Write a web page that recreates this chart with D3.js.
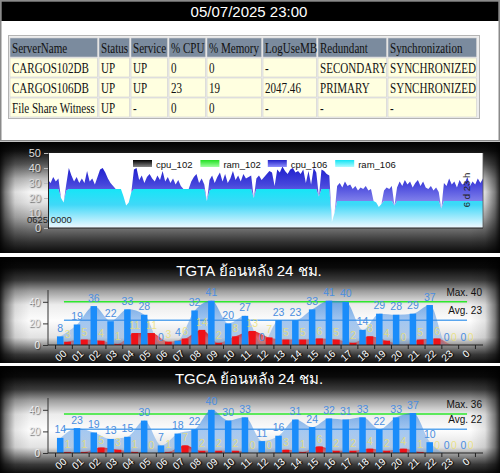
<!DOCTYPE html>
<html>
<head>
<meta charset="utf-8">
<script src="https://cdn.jsdelivr.net/npm/d3@7"></script>
<style>
  body { margin: 0; background: #fff; }
  svg { display: block; font-family: Arial, "Liberation Sans", "DejaVu Sans", sans-serif; }
  .shade { text-shadow: 1px 1px 1px #000; }
  .soft { text-shadow: 1px 1px 1px rgba(0,0,0,0.55); }
</style>
</head>
<body>
<svg width="500" height="473"></svg>
<script>
// ---- data ----
const stamp = "05/07/2025 23:00";

const tableHead = ["ServerName", "Status", "Service", "% CPU", "% Memory", "LogUseMB", "Redundant", "Synchronization"];
const tableRows = [
  ["CARGOS102DB", "UP", "UP", "0", "0", "-", "SECONDARY", "SYNCHRONIZED"],
  ["CARGOS106DB", "UP", "UP", "23", "19", "2047.46", "PRIMARY", "SYNCHRONIZED"],
  ["File Share Witness", "UP", "-", "0", "0", "-", "-", "-"]
];

const resSeries = ["cpu_102", "ram_102", "cpu_106", "ram_106"];
const resTicks = [0, 10, 20, 30, 40, 50];
const startLabel = "0625 0000";
const spanLabel = "6 d 23 h";

// hourly samples over the last 7 days (stacked: ram at the bottom, cpu on top)
const cpu106 = [
  6, 4, 8, 5, 7, 0, 0, 4, 14, 9, 5, 8,
  4, 7, 4, 12, 5, 7, 3, 8, 13, 14, 11, 7,
  4, 2, 0, 0, 0, 0, 0, 0, 0, 13, 14, 6,
  9, 4, 8, 10, 7, 5, 9, 6, 12, 5, 8, 4,
  7, 3, 6, 2, 0, 0, 0, 5, 8, 10, 4, 7,
  3, 0, 7, 9, 4, 8, 11, 5, 10, 4, 7, 12,
  6, 9, 5, 10, 7, 8, 9, 0, 7, 9, 6, 8,
  10, 12, 11, 2, 13, 11, 15, 12, 10, 13, 14, 11,
  12, 10, 13, 4, 12, 3, 14, 11, 0, 13, 12, 10,
  9, 0, 0, 10, 12, 9, 13, 10, 11, 8, 10, 7,
  9, 8, 10, 7, 8, 0, 0, 0, 0, 7, 9, 8,
  10, 0, 9, 13, 10, 14, 11, 13, 9, 12, 14, 10,
  13, 9, 8, 10, 7, 9, 6, 0, 12, 10, 15, 11,
  13, 9, 14, 11, 12, 16, 10, 13, 11, 15, 12, 15
];
const ram106 = [
  26, 26, 26, 26, 26, 20, 17, 25, 26, 26, 26, 26,
  26, 26, 26, 26, 26, 26, 26, 26, 26, 26, 26, 26,
  26, 26, 26, 26, 26, 21, 15, 17, 24, 26, 26, 26,
  26, 26, 26, 26, 26, 26, 26, 26, 26, 26, 26, 26,
  26, 26, 26, 26, 26, 26, 26, 26, 26, 26, 26, 26,
  26, 18, 25, 26, 26, 26, 26, 26, 26, 26, 26, 26,
  26, 26, 26, 26, 26, 26, 26, 20, 26, 26, 26, 26,
  26, 26, 26, 26, 26, 26, 26, 26, 26, 26, 26, 26,
  26, 26, 26, 26, 26, 26, 26, 26, 21, 26, 26, 26,
  26, 4, 10, 18, 18, 18, 18, 18, 18, 18, 18, 18,
  18, 18, 18, 18, 18, 18, 17, 14, 16, 18, 18, 18,
  18, 15, 18, 18, 18, 18, 18, 18, 18, 18, 18, 18,
  18, 18, 18, 18, 18, 18, 18, 13, 18, 18, 18, 18,
  18, 18, 18, 18, 18, 18, 18, 18, 18, 18, 18, 18
];

const hours = ["00", "01", "02", "03", "04", "05", "06", "07", "08", "09", "10", "11",
  "12", "13", "14", "15", "16", "17", "18", "19", "20", "21", "22", "23", "0"];
const hourTicks = [0, 20, 40];

const tgtaTitle = "TGTA ย้อนหลัง 24 ชม.";
const tgtaJobs = [8, 19, 36, 22, 33, 28, 0, 4, 32, 41, 20, 27, 0, 23, 23, 33, 41, 40, 14, 29, 28, 29, 37, 0, 0];
const tgtaErr = [3, 5, 4, 1, 11, 11, 3, 6, 14, 2, 8, 13, 7, 5, 5, 6, 5, 2, 8, 4, 0, 5, 6, 0, 0];
const tgtaMax = 40, tgtaAvg = 23;

const tgcaTitle = "TGCA ย้อนหลัง 24 ชม.";
const tgcaJobs = [14, 23, 19, 13, 15, 30, 7, 18, 22, 40, 30, 33, 11, 16, 31, 24, 32, 31, 33, 22, 33, 37, 10, 0, 0];
const tgcaErr = [1, 1, 5, 3, 1, 0, 1, 7, 2, 2, 2, 0, 0, 3, 1, 6, 2, 2, 4, 2, 4, 1, 0, 0, 0];
const tgcaMax = 36, tgcaAvg = 22;

// ---- drawing ----
const svg = d3.select("svg"),
  W = 500;
const defs = svg.append("defs");

function grad(id, stops, attrs) {
  const g = defs.append("linearGradient").attr("id", id);
  Object.entries(attrs).forEach(([k, v]) => g.attr(k, v));
  stops.forEach(s => g.append("stop").attr("offset", s[0]).attr("stop-color", s[1]).attr("stop-opacity", s[2] == null ? 1 : s[2]));
}
const vert = { x1: 0, y1: 0, x2: 0, y2: 1 };

grad("metal1", [[0, "#000"], [0.08, "#111"], [0.2, "#555"], [0.33, "#bbb"], [0.45, "#f6f6f6"], [0.55, "#e2e2e2"], [0.68, "#aaa"], [0.8, "#666"], [0.9, "#333"], [1, "#0a0a0a"]], vert);
grad("metal2", [[0, "#000"], [0.1, "#0a0a0a"], [0.22, "#3c3c3c"], [0.32, "#9c9c9c"], [0.45, "#ececec"], [0.6, "#fdfdfd"], [0.76, "#e2e2e2"], [0.84, "#8c8c8c"], [0.92, "#3a3a3a"], [1, "#101010"]], vert);
grad("edge", [[0, "#000", 0.85], [0.01, "#000", 0.5], [0.03, "#000", 0.1], [0.06, "#000", 0], [0.94, "#000", 0], [0.97, "#000", 0.1], [0.99, "#000", 0.5], [1, "#000", 0.85]], { x1: 0, y1: 0, x2: 1, y2: 0 });
grad("cpuGrad", [[0, "#0e0ec8"], [0.55, "#4646dc"], [1, "#8e8eee"]], { gradientUnits: "userSpaceOnUse", x1: 0, y1: 160, x2: 0, y2: 205 });
grad("ramGrad", [[0, "#0ee8f6"], [0.45, "#40d8f8"], [1, "#f2f9ff"]], { gradientUnits: "userSpaceOnUse", x1: 0, y1: 186, x2: 0, y2: 228 });
grad("sw0", [[0, "#000"], [1, "#888"]], vert);
grad("sw1", [[0, "#22e022"], [1, "#a0ffa0"]], vert);
grad("sw2", [[0, "#2020c8"], [1, "#9090ff"]], vert);
grad("sw3", [[0, "#10e4f4"], [1, "#b0fbff"]], vert);
grad("jobArea", [[0, "#287de1", 0.62], [1, "#5096e6", 0.28]], vert);
grad("errArea", [[0, "#e00000", 0.92], [1, "#e00000", 0.2]], vert);

// ---- header + table ----
svg.append("rect").attr("x", 0.75).attr("y", 0.75).attr("width", 498.5).attr("height", 140)
  .attr("fill", "#fff").attr("stroke", "#8a8a8a").attr("stroke-width", 1.5);
svg.append("rect").attr("x", 1.5).attr("y", 1.5).attr("width", 497).attr("height", 19.5).attr("fill", "#000");
svg.append("text").attr("x", 249).attr("y", 17).attr("text-anchor", "middle")
  .attr("fill", "#fff").style("font-size", "15px").text(stamp);

const colEdges = [10, 99, 131, 169, 207, 263, 318, 388, 478];
const rowTop = [38, 58, 78, 98];
svg.append("rect").attr("x", 8.5).attr("y", 35.5).attr("width", 471).attr("height", 83)
  .attr("fill", "#ededed").attr("stroke", "#b4b4b4");
[tableHead, ...tableRows].forEach((row, r) => {
  row.forEach((txt, c) => {
    const x0 = colEdges[c], y0 = rowTop[r];
    svg.append("rect").attr("x", x0).attr("y", y0)
      .attr("width", colEdges[c + 1] - x0 - 1.5).attr("height", 19)
      .attr("fill", r === 0 ? "#7b8b9e" : "#ffffe0")
      .attr("stroke", "#cfcfcf").attr("stroke-width", 0.6);
    svg.append("text")
      .attr("transform", `translate(${x0 + 2},${y0 + 15.3}) scale(0.79,1)`)
      .style("font-family", "'Liberation Serif', 'Times New Roman', serif")
      .style("font-size", "14px").attr("fill", "#111").text(txt);
  });
});

// ---- metallic panels ----
function panel(y0, h, fill) {
  svg.append("rect").attr("x", 0).attr("y", y0).attr("width", W).attr("height", h).attr("fill", fill);
  svg.append("rect").attr("x", 0).attr("y", y0).attr("width", W).attr("height", h).attr("fill", "url(#edge)");
}
panel(142, 111, "url(#metal1)");
panel(257, 106, "url(#metal2)");
panel(366, 107, "url(#metal2)");

// ---- resource chart ----
const rx = d3.scaleLinear().domain([0, cpu106.length - 1]).range([48, 483]);
const ry = d3.scaleLinear().domain([0, 50]).range([228, 153]);

svg.append("rect").attr("x", 48).attr("y", 153).attr("width", 435).attr("height", 75).attr("fill", "#fff");

const resData = cpu106.map((c, i) => ({ i: i, ram_106: ram106[i], cpu_106: c }));
const layers = d3.stack().keys(["ram_106", "cpu_106"])(resData);
const resArea = d3.area()
  .x(d => rx(d.data.i))
  .y0(d => ry(d[0]))
  .y1(d => ry(d[1]));
svg.append("g").selectAll("path").data(layers).join("path")
  .attr("d", resArea)
  .attr("fill", d => d.key === "ram_106" ? "url(#ramGrad)" : "url(#cpuGrad)");

svg.append("line").attr("x1", 483).attr("x2", 483).attr("y1", 153).attr("y2", 228).attr("stroke", "#555").attr("stroke-width", 0.8);
const resAxis = svg.append("g").attr("transform", "translate(48,0)")
  .call(d3.axisLeft(ry).tickValues(resTicks).tickSize(4).tickPadding(3));
resAxis.select(".domain").attr("stroke", "#222");
resAxis.selectAll(".tick line").attr("stroke", "#bbb");
resAxis.selectAll(".tick text").attr("fill", "#ddd").attr("class", "soft")
  .style("font-size", "11px").style("font-family", "Arial, 'Liberation Sans', sans-serif");
svg.append("line").attr("x1", 48).attr("x2", 483).attr("y1", 228).attr("y2", 228).attr("stroke", "#222");

const legend = svg.append("g").selectAll("g").data(resSeries).join("g")
  .attr("transform", (d, i) => `translate(${133 + i * 67.4},160)`);
legend.append("rect").attr("width", 19).attr("height", 7).attr("fill", (d, i) => `url(#sw${i})`);
legend.append("text").attr("x", 23).attr("y", 7.5).attr("fill", "#111")
  .style("font-size", "9.5px").text(d => d);

svg.append("text").attr("x", 27).attr("y", 223).attr("fill", "#222")
  .style("font-size", "9.5px").text(startLabel);
svg.append("text").attr("transform", "translate(470,190) rotate(-90)").attr("text-anchor", "middle")
  .attr("fill", "#222").style("font-size", "9.5px").text(spanLabel);

// white separators
svg.append("rect").attr("x", 0).attr("y", 253).attr("width", W).attr("height", 4).attr("fill", "#fff");
svg.append("rect").attr("x", 0).attr("y", 363).attr("width", W).attr("height", 3).attr("fill", "#fff");

// ---- hourly charts ----
function hourly(top, title, jobs, errs, maxV, avgV) {
  const g = svg.append("g");
  const x = d3.scaleBand().domain(hours).range([48, 483]).paddingOuter(0.45).paddingInner(0);
  const y = d3.scaleLinear().domain([0, 50]).range([top + 88, top + 34]);
  const c = h => x(h) + x.bandwidth() / 2;
  const rows = hours.map((h, i) => ({ h: h, job: jobs[i], err: errs[i] }));

  g.append("text").attr("x", 249).attr("y", top + 18.5).attr("text-anchor", "middle")
    .attr("fill", "#fff").style("font-size", "15px").text(title);

  // reference lines
  const x0 = c(hours[0]), x1 = c(hours[hours.length - 1]);
  [[maxV, "#2ee82e", "Max. "], [avgV, "#5aa6ee", "Avg. "]].forEach(([v, col, lab]) => {
    g.append("line").attr("x1", x0).attr("x2", x1).attr("y1", y(v)).attr("y2", y(v))
      .attr("stroke", col).attr("stroke-width", 1.5);
    g.append("text").attr("x", 482).attr("y", y(v) - 6).attr("text-anchor", "end")
      .attr("fill", "#111").style("font-size", "10px").text(lab + v);
  });

  // smoothed areas
  g.append("path").datum(rows)
    .attr("d", d3.area().curve(d3.curveMonotoneX).x(d => c(d.h) - 3.5).y0(y(0)).y1(d => y(d.job)))
    .attr("fill", "url(#jobArea)");
  g.append("path").datum(rows)
    .attr("d", d3.area().curve(d3.curveMonotoneX).x(d => c(d.h) + 3.5).y0(y(0)).y1(d => y(d.err)))
    .attr("fill", "url(#errArea)");

  // bars
  g.selectAll(".job").data(rows).join("rect").attr("class", "job")
    .attr("x", d => c(d.h) - 7).attr("width", 6.5)
    .attr("y", d => y(d.job)).attr("height", d => y(0) - y(d.job)).attr("fill", "#1a8cfa");
  g.selectAll(".err").data(rows).join("rect").attr("class", "err")
    .attr("x", d => c(d.h) + 0.2).attr("width", 6.8)
    .attr("y", d => y(d.err)).attr("height", d => y(0) - y(d.err)).attr("fill", "#ee1118");

  // value labels
  g.selectAll(".jl").data(rows).join("text").attr("class", "jl")
    .attr("x", d => c(d.h) - 3.7).attr("y", d => y(d.job) - 4.5).attr("text-anchor", "middle")
    .attr("fill", "#4a8ee0").style("font-size", "10.5px").text(d => d.job);
  g.selectAll(".el").data(rows).join("text").attr("class", "el")
    .attr("x", d => c(d.h) + 3.6).attr("y", d => y(d.err) - 4).attr("text-anchor", "middle")
    .attr("fill", "#ebe070").attr("fill-opacity", 0.8).style("font-size", "10.5px").text(d => d.err);

  // axes
  const ya = g.append("g").attr("transform", "translate(48,0)")
    .call(d3.axisLeft(y).tickValues(hourTicks).tickSize(5).tickPadding(3));
  ya.select(".domain").attr("stroke", "#333").attr("d", `M-0,${y(0)}V${top + 33}`);
  ya.selectAll(".tick line").attr("stroke", "#333");
  ya.selectAll(".tick text").attr("fill", "#eee").attr("class", "soft")
    .style("font-size", "10px").style("font-family", "Arial, 'Liberation Sans', sans-serif");

  const xa = g.append("g").attr("transform", `translate(0,${y(0)})`)
    .call(d3.axisBottom(x).tickSize(0).tickPadding(0));
  xa.select(".domain").attr("stroke", "#222").attr("d", "M48,0H483");
  xa.selectAll(".tick text")
    .attr("transform", "translate(1,7) rotate(-42)").attr("dy", "0.35em").attr("y", 0)
    .attr("text-anchor", "end").attr("fill", "#fff").attr("class", "shade")
    .style("font-size", "10px").style("font-family", "Arial, 'Liberation Sans', sans-serif");
  g.append("g").selectAll("line").data(hours.concat(["end"])).join("line")
    .attr("x1", (d, i) => x(hours[0]) + i * x.step()).attr("x2", (d, i) => x(hours[0]) + i * x.step())
    .attr("y1", y(0)).attr("y2", y(0) + 4).attr("stroke", "#222");
}

hourly(257, tgtaTitle, tgtaJobs, tgtaErr, tgtaMax, tgtaAvg);
hourly(365, tgcaTitle, tgcaJobs, tgcaErr, tgcaMax, tgcaAvg);
</script>
</body>
</html>
